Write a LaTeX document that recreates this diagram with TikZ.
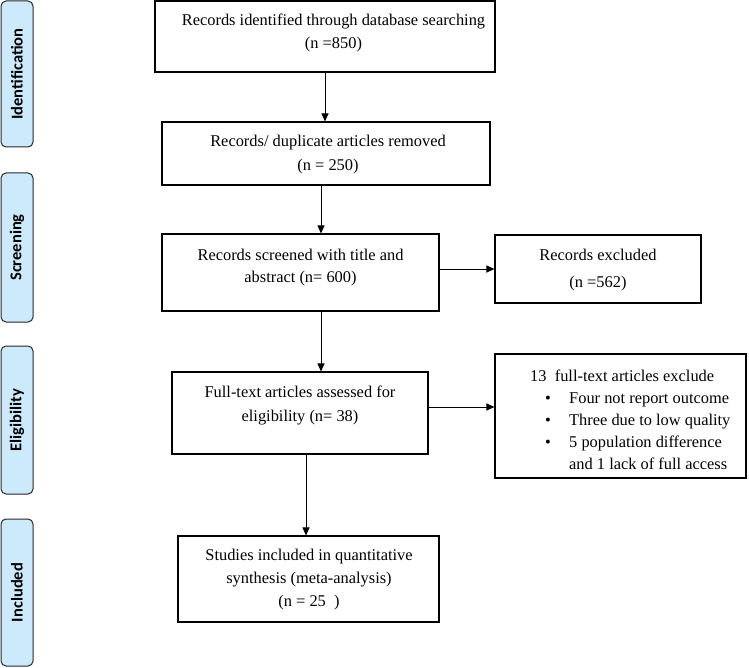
\documentclass[tikz,border=0pt]{standalone}
\usepackage{fontspec}
\setmainfont{Liberation Serif}
\newfontfamily\sidefont{Carlito}
\usetikzlibrary{arrows.meta}
\definecolor{sideblue}{RGB}{205,233,252}
\definecolor{sideline}{RGB}{40,40,40}
\begin{document}
\begin{tikzpicture}[x=1pt,y=-1pt,
  box/.style={draw=black, line width=1.1pt, inner sep=0pt},
  txt/.style={align=center, inner sep=0pt, font=\fontsize{16.4}{23.5}\selectfont},
  side/.style={draw=sideline, fill=sideblue, rounded corners=5pt, line width=1pt, minimum width=32pt, inner sep=0pt},
  sidetxt/.style={rotate=90, inner sep=0pt, font=\sidefont\bfseries\fontsize{16.5}{18}\selectfont},
  arr/.style={line width=1pt, -{Triangle[length=8pt,width=7pt]}}]
\useasboundingbox (0,0) rectangle (749,668);

% side stage labels
\node[side, minimum height=146pt] (s1) at (17,74) {};
\node[sidetxt] (t1) at (s1.center) {Identification};
\node[side, minimum height=149pt] (s2) at (17,247.5) {};
\node[sidetxt] (t2) at (s2.center) {Screening};
\node[side, minimum height=148pt] (s3) at (17,420) {};
\node[sidetxt] (t3) at (s3.center) {Eligibility};
\node[side, minimum height=147pt] (s4) at (17,592.5) {};
\node[sidetxt] (t4) at (s4.center) {Included};

% main boxes
\node[box, minimum width=340pt, minimum height=71pt] (b1) at (325,36.5) {};
\node[txt] (l1) at (333.5,33) {Records identified through database searching\\(n =850)};

\node[box, minimum width=328pt, minimum height=63pt] (b2) at (326,153.5) {};
\node[txt] (l2) at (328,154.5) {Records/ duplicate articles removed\\(n = 250)};

\node[box, minimum width=277pt, minimum height=77pt] (b3) at (300.5,272.5) {};
\node[txt, font=\fontsize{16.4}{22}\selectfont] (l3) at (300.5,268) {Records screened with title and\\abstract (n= 600)};

\node[box, minimum width=206pt, minimum height=68pt] (e1) at (598,269) {};
\node[txt, font=\fontsize{16.4}{27}\selectfont] (le1) at (598,270) {Records excluded\\(n =562)};

\node[box, minimum width=256pt, minimum height=82pt] (b4) at (300,413) {};
\node[txt, font=\fontsize{16.4}{24}\selectfont] (l4) at (300,405) {Full-text articles assessed for\\eligibility (n= 38)};

\node[box, minimum width=251pt, minimum height=124pt] (e2) at (620.5,416) {};
\node[inner sep=0pt, anchor=west, align=left, font=\fontsize{16.4}{22}\selectfont] (le2) at (530,420)
  {13\ \ full-text articles exclude\\
   \makebox[15pt][l]{}\makebox[24pt][l]{\textbullet}Four not report outcome\\
   \makebox[15pt][l]{}\makebox[24pt][l]{\textbullet}Three due to low quality\\
   \makebox[15pt][l]{}\makebox[24pt][l]{\textbullet}5 population difference\\
   \makebox[39pt][l]{}and 1 lack of full access};

\node[box, minimum width=261pt, minimum height=86pt] (b5) at (308.5,579) {};
\node[txt, font=\fontsize{16.4}{23}\selectfont] (l5) at (309,580) {Studies included in quantitative\\synthesis (meta-analysis)\\(n = 25\ \ )};

% connectors
\coordinate (xa) at (321,0);
\coordinate (xb) at (306,0);
\coordinate (ya) at (0,407);
\draw[arr] (b1.south) -- (b1.south |- b2.north);
\draw[arr] (b2.south -| xa) -- (b3.north -| xa);
\draw[arr] (b3.south -| xa) -- (b4.north -| xa);
\draw[arr] (b4.south -| xb) -- (b5.north -| xb);
\draw[arr] (b3.east |- e1.west) -- (e1.west);
\draw[arr] (b4.east |- ya) -- (e2.west |- ya);
\end{tikzpicture}
\end{document}
